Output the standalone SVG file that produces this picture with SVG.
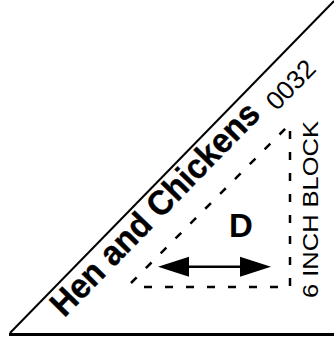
<svg xmlns="http://www.w3.org/2000/svg" width="334" height="337" viewBox="0 0 334 337">
  <style>
    .edge { stroke: #000; fill: none; }
    .dash { stroke: #000; fill: none; stroke-width: 2.5; stroke-dasharray: 8 13; }
    .bold { font-family: "Liberation Sans", Arial, sans-serif; font-weight: bold; fill: #000; }
    .reg { font-family: "Liberation Sans", Arial, sans-serif; fill: #000; }
  </style>
  <rect width="334" height="337" fill="#fff"/>
  <g id="outline">
    <line class="edge" x1="10" y1="333" x2="334" y2="1" stroke-width="2"/>
    <line class="edge" x1="9" y1="334.5" x2="334" y2="334.5" stroke-width="3"/>
  </g>
  <g id="piece-outline">
    <path class="dash" d="M131,283 L288,126 M290,131 V287 H132"/>
  </g>
  <g id="title">
    <text class="bold" font-size="34.5" text-anchor="middle" textLength="283" lengthAdjust="spacingAndGlyphs" stroke="#000" stroke-width="0.4" transform="translate(163,217) rotate(-45.7)">Hen and Chickens</text>
  </g>
  <g id="code">
    <text class="reg" font-size="26" text-anchor="middle" textLength="58" lengthAdjust="spacingAndGlyphs" transform="translate(297,91) rotate(-45.7)">0032</text>
  </g>
  <g id="size-label">
    <text class="reg" font-size="22" textLength="177" lengthAdjust="spacingAndGlyphs" transform="translate(318,298) rotate(-90)">6 INCH BLOCK</text>
  </g>
  <g id="piece-label">
    <text class="bold" font-size="33" text-anchor="middle" x="241" y="237">D</text>
  </g>
  <g id="connectors">
    <line class="edge" x1="186" y1="266.7" x2="243" y2="266.7" stroke-width="2.5"/>
    <polygon points="158,266.7 189,256.7 189,276.7" fill="#000"/>
    <polygon points="271,266.7 240,256.7 240,276.7" fill="#000"/>
  </g>
</svg>
